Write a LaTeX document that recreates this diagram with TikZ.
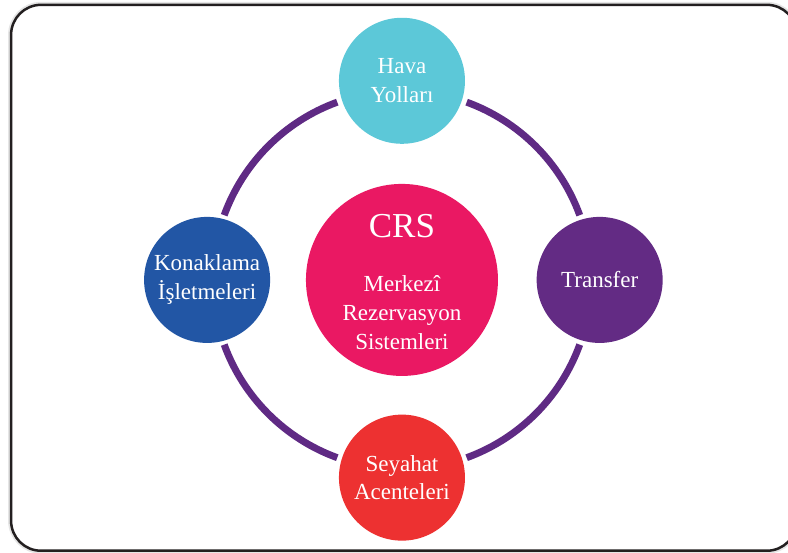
\documentclass[tikz,border=0pt]{standalone}
\usepackage{fontspec}
\setmainfont{Liberation Serif}
\usepackage{tikz}
\usetikzlibrary{positioning, calc}

\definecolor{ringpurple}{HTML}{5F2A84}
\definecolor{hubpink}{HTML}{EA1863}
\definecolor{airblue}{HTML}{5CC8D8}
\definecolor{hotelblue}{HTML}{2256A5}
\definecolor{transferpurple}{HTML}{632B84}
\definecolor{agencyred}{HTML}{ED3131}
\definecolor{framegray}{HTML}{231F20}

\begin{document}
\begin{tikzpicture}[
    every node/.style={text=white, font=\fontsize{23}{29}\selectfont},
    hub/.style={circle, fill=hubpink, minimum size=6.75cm, inner sep=0pt},
    partner/.style={circle, minimum size=4.43cm, inner sep=0pt, align=center},
    ring/.style={draw=ringpurple, line width=7pt}
]
\useasboundingbox (-14.13,-9.59) rectangle (13.57,9.84);

% Frame
\draw[black!10, line width=6pt, rounded corners=30pt] (-13.74,-9.52) rectangle (13.88,9.67);
\draw[framegray, line width=2.5pt, fill=white, rounded corners=30pt] (-13.74,-9.52) rectangle (13.88,9.67);

% Nodes
\node[hub] (crs) at (0, 0) {};
\node[anchor=base, font=\fontsize{35}{40}\selectfont] (crsname) at (0, 1.48) {CRS};
\node[align=center] (crstext) at (0, -1.16) {Merkezî\\Rezervasyon\\Sistemleri};

\node[partner, fill=airblue] (air) at (90:7) {Hava\\Yolları};
\node[partner, fill=transferpurple] (transfer) at (0:6.95) {Transfer};
\node[partner, fill=agencyred] (agency) at (270:6.95) {Seyahat\\Acenteleri};
\node[partner, fill=hotelblue] (hotel) at (180:6.85) {Konaklama\\İşletmeleri};

% Ring
\foreach \a in {20, 110, 200, 290}
    \draw[ring] (crs.center) ++(\a:6.65) arc[start angle=\a, delta angle=50, radius=6.65];

\end{tikzpicture}
\end{document}
